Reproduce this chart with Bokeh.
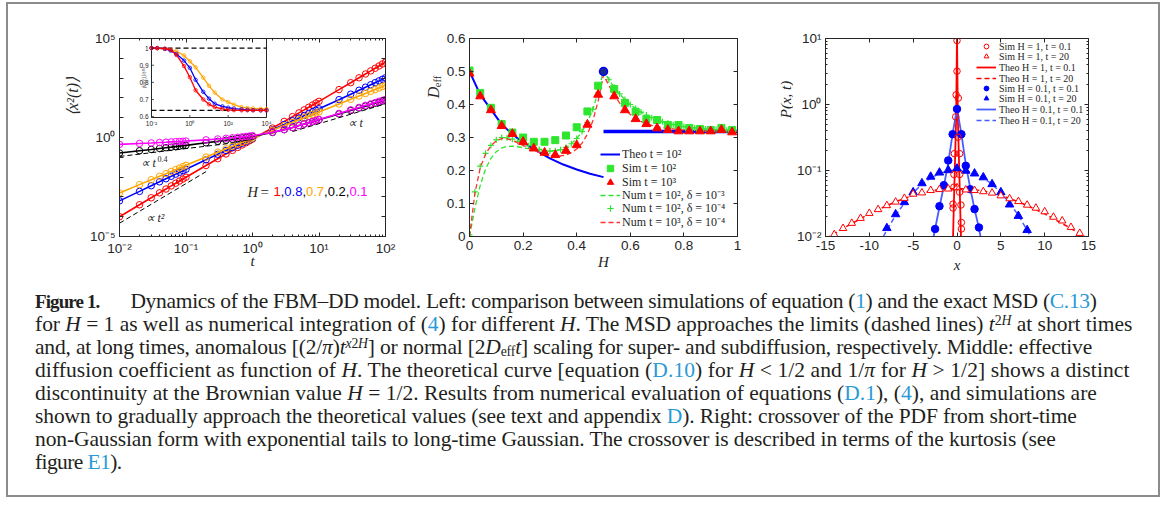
import math
from bokeh.plotting import figure
from bokeh.models import (Range1d, LogScale, LinearScale, FixedTicker, CustomJSTickFormatter,
                          LogAxis, LinearAxis, Label, Legend, LegendItem, Div)
from bokeh.layouts import row, column
from bokeh.embed import file_html
from bokeh.resources import INLINE
from bokeh.core.properties import value

INK = "#262626"
SANS = "Liberation Sans"
SERIF = "Liberation Serif"

# ---------------- Left panel: MSD ----------------
t_main = [0.01, 0.02, 0.03, 0.04, 0.05, 0.06, 0.07, 0.08, 0.09,
          0.1, 0.2, 0.3, 0.4, 0.5, 0.6, 0.7, 0.8, 0.9,
          1, 2, 3, 4, 5, 6, 7, 8, 9,
          10, 20, 30, 40, 50, 60, 70, 80, 90, 100]
msd_H1 = [1.0e-4, 4.0e-4, 9.0e-4, 1.6e-3, 2.5e-3, 3.6e-3, 4.9e-3, 6.35e-3, 8.0e-3,
          0.0099, 0.0384, 0.085, 0.148, 0.224, 0.315, 0.421, 0.544, 0.680,
          0.83, 3.0, 6.5, 11.3, 17.5, 24.9, 33.6, 43.5, 54.8,
          67.2, 262, 585, 1037, 1612, 2315, 3146, 4102, 5184, 6400]
msd_H08 = [6.3e-4, 1.9e-3, 3.66e-3, 5.79e-3, 8.28e-3, 1.10e-2, 1.41e-2, 1.75e-2, 2.11e-2,
           0.0249, 0.0746, 0.1416, 0.221, 0.306, 0.405, 0.512, 0.629, 0.754,
           0.885, 2.47, 4.55, 7.03, 9.76, 12.9, 16.3, 20.0, 23.9,
           28.1, 81.5, 154, 243, 346, 461, 588, 725, 874, 1033]
msd_H07 = [1.585e-3, 4.17e-3, 7.35e-3, 1.095e-2, 1.49e-2, 1.93e-2, 2.39e-2, 2.89e-2, 3.40e-2,
           0.0394, 0.1031, 0.180, 0.268, 0.363, 0.465, 0.572, 0.684, 0.802,
           0.923, 2.34, 4.03, 5.88, 7.88, 10.0, 12.2, 14.6, 17.1,
           19.6, 49.1, 84.5, 125, 167, 215, 265, 318, 374, 432]
msd_H02 = [0.165, 0.215, 0.25, 0.28, 0.305, 0.325, 0.345, 0.365, 0.385,
           0.40, 0.54, 0.64, 0.73, 0.81, 0.88, 0.95, 1.02, 1.09,
           1.15, 1.8, 2.5, 3.2, 4.0, 4.8, 5.5, 6.3, 7.1,
           7.9, 15.5, 23, 31, 38.5, 46, 54, 61, 69, 76]
msd_H01 = [0.45, 0.5, 0.53, 0.56, 0.58, 0.6, 0.615, 0.63, 0.645,
           0.66, 0.76, 0.84, 0.91, 0.97, 1.03, 1.08, 1.13, 1.18,
           1.23, 1.85, 2.5, 3.2, 4.0, 4.8, 5.6, 6.4, 7.3,
           8.1, 16.5, 25, 33, 42, 50, 58, 67, 75, 84]
H_labels = ["1", "0.8", "0.7", "0.2", "0.1"]

ref04_t = [0.01, 1.0]
ref04_y = [0.11, 0.69]
ref2_t = [0.01, 0.2]
ref2_y = [4.7e-5, 0.0188]
ref1_t = [4.0, 100.0]
ref1_y = [2.0, 50.0]

# inset: <x^2(t)>/t^{2H}
t_in = [0.01, 0.02, 0.05, 0.1, 0.2, 0.5, 1, 2, 5, 10, 20, 50, 100, 200, 500,
        1000, 2000, 5000, 10000]
ratio_H1 = [1.0, 1.0, 0.997, 0.99, 0.96, 0.895, 0.83, 0.754, 0.70, 0.672, 0.656,
            0.645, 0.64, 0.638, 0.637, 0.637, 0.637, 0.637, 0.637]
ratio_H08 = [1.0, 1.0, 0.995, 0.985, 0.965, 0.927, 0.885, 0.815, 0.745, 0.705,
             0.675, 0.66, 0.652, 0.647, 0.643, 0.64, 0.638, 0.637, 0.637]
ratio_H07 = [1.0, 0.999, 0.995, 0.99, 0.982, 0.957, 0.923, 0.888, 0.828, 0.78,
             0.74, 0.70, 0.685, 0.67, 0.656, 0.651, 0.648, 0.646, 0.645]
inset_t_lim = [1e-2, 1e4]
inset_r_lim = [0.595, 1.056]
inset_limits = [1.0, 0.6366]
inset_yticks = [0.6, 0.7, 0.8, 0.9, 1.0]
inset_ytick_labels = ["0.6", "0.7", "0.8", "0.9", "1"]
inset_xticks = [1e-2, 1e0, 1e2, 1e4]
inset_xtick_labels = ["10⁻²", "10⁰", "10²", "10⁴"]

# ---------------- Middle panel: D_eff ----------------
theo_H = [0.0, 0.04, 0.08, 0.12, 0.16, 0.2, 0.25, 0.3, 0.35, 0.4, 0.45, 0.5]
theo_D = [0.5, 0.43, 0.385, 0.34, 0.31, 0.285, 0.26, 0.237, 0.218, 0.203, 0.19, 0.18]
theo_flat_H = [0.5, 1.0]
theo_flat_D = [0.3183, 0.3183]
theo_half_H = [0.5]
theo_half_D = [0.5]

sim_H = [0.0, 0.04, 0.08, 0.12, 0.16, 0.2, 0.24, 0.28, 0.32, 0.36, 0.4, 0.44, 0.48,
         0.54, 0.58, 0.62, 0.66, 0.7, 0.74, 0.78, 0.82, 0.86, 0.9, 0.94, 0.98]
sim_t2 = [0.503, 0.435, 0.39, 0.341, 0.315, 0.30, 0.287, 0.287, 0.292, 0.306, 0.331,
          0.379, 0.457, 0.447, 0.405, 0.378, 0.356, 0.353, 0.338, 0.338, 0.329,
          0.326, 0.323, 0.329, 0.323]
sim_t3 = [0.494, 0.425, 0.383, 0.335, 0.311, 0.287, 0.267, 0.254, 0.247, 0.26, 0.277,
          0.339, 0.43, 0.425, 0.383, 0.356, 0.341, 0.328, 0.323, 0.319, 0.319,
          0.319, 0.319, 0.323, 0.316]

num_H = [0.0, 0.02, 0.04, 0.06, 0.08, 0.10, 0.12, 0.14, 0.16, 0.18, 0.20, 0.22, 0.24,
         0.26, 0.28, 0.30, 0.32, 0.34, 0.36, 0.38, 0.40, 0.42, 0.44, 0.46, 0.48, 0.50,
         0.52, 0.54, 0.56, 0.58, 0.60, 0.62, 0.64, 0.66, 0.68, 0.70, 0.72, 0.74, 0.76,
         0.78, 0.80, 0.82, 0.84, 0.86, 0.88, 0.90, 0.92, 0.94, 0.96, 0.98, 1.00]
num_t2_d3 = [0.0, 0.085, 0.155, 0.205, 0.237, 0.257, 0.268, 0.273, 0.274, 0.272, 0.269,
             0.266, 0.263, 0.261, 0.259, 0.259, 0.26, 0.263, 0.27, 0.281, 0.297, 0.318,
             0.346, 0.385, 0.437, 0.503, 0.476, 0.452, 0.432, 0.415, 0.40, 0.388,
             0.377, 0.368, 0.36, 0.354, 0.348, 0.343, 0.339, 0.336, 0.333, 0.331,
             0.329, 0.327, 0.326, 0.325, 0.324, 0.323, 0.322, 0.321, 0.32]
num_t2_d4 = [0.005, 0.135, 0.213, 0.252, 0.276, 0.293, 0.30, 0.299, 0.295, 0.288, 0.281,
             0.275, 0.269, 0.264, 0.26, 0.259, 0.26, 0.263, 0.27, 0.281, 0.297, 0.318,
             0.346, 0.385, 0.435, 0.50, 0.475, 0.452, 0.432, 0.415, 0.40, 0.388,
             0.377, 0.368, 0.36, 0.354, 0.348, 0.343, 0.339, 0.336, 0.333, 0.331,
             0.329, 0.327, 0.326, 0.325, 0.324, 0.323, 0.322, 0.321, 0.32]
num_t3_d4 = [0.0, 0.13, 0.208, 0.25, 0.275, 0.29, 0.297, 0.296, 0.291, 0.284, 0.276,
             0.268, 0.261, 0.255, 0.25, 0.246, 0.244, 0.244, 0.247, 0.254, 0.265,
             0.283, 0.31, 0.35, 0.41, 0.49, 0.458, 0.428, 0.405, 0.385, 0.37, 0.358,
             0.349, 0.342, 0.337, 0.333, 0.33, 0.328, 0.326, 0.324, 0.323, 0.322,
             0.321, 0.321, 0.32, 0.32, 0.32, 0.32, 0.319, 0.319, 0.319]

# ---------------- Right panel: PDF ----------------
simA_x = [0.0, 0.0, -0.1, 0.15, -0.15, 0.1, -0.3, 0.3, -0.35, 0.3, -0.35, 0.3,
          -0.45, -0.45, 0.45, 0.5, 0.5]
simA_p = [9.3, 3.2, 1.4, 1.25, 0.65, 0.32, 0.18, 0.18, 0.087, 0.087, 0.056, 0.047,
          0.031, 0.027, 0.030, 0.0163, 0.013]
simB_x = [-14, -13, -12, -11, -10, -9, -8, -7, -6, -5, -4, -3, -2, -1, 0,
          1, 2, 3, 4, 5, 6, 7, 8, 9, 10, 11, 12, 13, 14]
simB_p = [0.0107, 0.0133, 0.0159, 0.0189, 0.0225, 0.0257, 0.0295, 0.0334, 0.038,
          0.044, 0.046, 0.050, 0.0517, 0.0527, 0.055, 0.051, 0.050, 0.048, 0.0457,
          0.0415, 0.0375, 0.034, 0.030, 0.027, 0.0238, 0.0197, 0.0173, 0.0138, 0.0112]
theoA_x = [-0.45, -0.4, -0.3, -0.2, -0.1, 0.0, 0.1, 0.2, 0.3, 0.4, 0.45]
theoA_p = [0.01, 0.018, 0.06, 0.19, 0.6, 12.0, 0.6, 0.19, 0.06, 0.018, 0.01]
theoB_x = [-15, -14, -13, -12, -11, -10, -9, -8, -7, -6, -5, -4, -3, -2, -1, 0,
           1, 2, 3, 4, 5, 6, 7, 8, 9, 10, 11, 12, 13, 14, 15]
theoB_p = [0.0093, 0.011, 0.0132, 0.0157, 0.0186, 0.022, 0.0255, 0.0294, 0.0335,
           0.0378, 0.042, 0.0458, 0.049, 0.0513, 0.0527, 0.0532, 0.0527, 0.0513,
           0.049, 0.0458, 0.042, 0.0378, 0.0335, 0.0294, 0.0255, 0.022, 0.0186,
           0.0157, 0.0132, 0.011, 0.0093]
simC_x = [-2.5, -2.0, -1.5, -1.0, -0.5, 0.0, 0.5, 1.0, 1.5, 2.0, 2.5]
simC_p = [0.013, 0.0288, 0.06, 0.142, 0.355, 0.855, 0.355, 0.118, 0.052, 0.026, 0.0137]
simD_x = [-8, -7, -6, -5, -4, -3, -2, -1, 0, 1, 2, 3, 4, 5, 6, 7, 8]
simD_p = [0.0134, 0.0217, 0.0331, 0.0468, 0.064, 0.0805, 0.093, 0.101, 0.107, 0.099,
          0.090, 0.0787, 0.062, 0.0468, 0.0305, 0.0205, 0.0125]
theoC_x = [-2.7, -2.5, -2.0, -1.5, -1.0, -0.5, 0.0, 0.5, 1.0, 1.5, 2.0, 2.5, 2.7]
theoC_p = [0.0095, 0.013, 0.028, 0.058, 0.13, 0.36, 0.87, 0.36, 0.125, 0.055, 0.026,
           0.0135, 0.0097]
theoD_x = [-8.4, -8, -7, -6, -5, -4, -3, -2, -1, 0, 1, 2, 3, 4, 5, 6, 7, 8, 8.4]
theoD_p = [0.01, 0.0125, 0.021, 0.032, 0.046, 0.062, 0.077, 0.090, 0.099, 0.102,
           0.099, 0.090, 0.077, 0.062, 0.046, 0.032, 0.021, 0.0125, 0.01]

# ---------------- helpers ----------------
LOGFMT = """
const e = Math.round(Math.log10(tick));
if (show.length > 0 && !show.includes(e)) return "";
const m = {"-":"\u207b","0":"\u2070","1":"\u00b9","2":"\u00b2","3":"\u00b3","4":"\u2074",
           "5":"\u2075","6":"\u2076","7":"\u2077","8":"\u2078","9":"\u2079"};
return "10" + String(e).split("").map(c => m[c]).join("");
"""
LINFMT = "return String(Math.round(tick*10)/10);"
BLANK = "return '';"
TICK_FS = "13.5px"
AXL_FS = "15px"


def style_axis(ax, ticker, code, args=None, labels=True):
    ax.ticker = ticker
    ax.formatter = CustomJSTickFormatter(code=code, args=args or {})
    ax.axis_line_color = INK
    ax.major_tick_line_color = INK
    ax.minor_tick_line_color = INK
    ax.major_tick_in = 4
    ax.major_tick_out = 0
    ax.minor_tick_in = 2
    ax.minor_tick_out = 0
    ax.major_label_text_font = SANS
    ax.major_label_text_font_size = TICK_FS if labels else "0px"
    ax.major_label_text_color = INK
    ax.major_label_standoff = 4


def xlabel(ax, text, standoff):
    ax.axis_label = text
    ax.axis_label_text_font = SERIF
    ax.axis_label_text_font_style = "italic"
    ax.axis_label_text_font_size = AXL_FS
    ax.axis_label_text_color = INK
    ax.axis_label_standoff = standoff


def make_fig(width, height, left, right, top, bottom, **kw):
    p = figure(width=width, height=height, min_border_left=left, min_border_right=right,
               min_border_top=top, min_border_bottom=bottom, output_backend="svg",
               toolbar_location=None, **kw)
    p.outline_line_color = INK
    p.xgrid.visible = False
    p.ygrid.visible = False
    p.background_fill_color = "white"
    p.border_fill_color = "white"
    return p


def strip(width, height):
    s = figure(width=width, height=height, min_border=0, x_axis_location=None,
               y_axis_location=None, output_backend="svg", toolbar_location=None,
               x_range=Range1d(0, 1), y_range=Range1d(0, 1))
    s.outline_line_color = None
    s.xgrid.visible = False
    s.ygrid.visible = False
    s.border_fill_color = "white"
    s.background_fill_color = "white"
    return s


def lab(p, x, y, text, size, font=SERIF, style="italic", color=INK, angle=0.0,
        align="center", baseline="middle"):
    p.add_layout(Label(x=x, y=y, x_units="screen", y_units="screen", text=text,
                       text_font=font, text_font_size=f"{size}px", text_font_style=style,
                       text_color=color, angle=angle, text_align=align,
                       text_baseline=baseline))


def legend_rows(p, entries, x, centers, frame_h, h, fs, standoff):
    # one single-item legend per row, so that row pitch can be set exactly
    for (label, rend), c in zip(entries, centers):
        y = frame_h - c - h / 2.0
        p.add_layout(Legend(items=[LegendItem(label=label, renderers=[rend])],
                            location=(x, round(y)), padding=0, margin=0, spacing=0,
                            glyph_width=20, glyph_height=h, label_height=h,
                            label_standoff=standoff, label_text_font=SERIF,
                            label_text_font_size=fs, label_text_line_height=1.0,
                            label_text_color=INK, background_fill_alpha=0,
                            border_line_alpha=0))


def decade_ticks(lo, hi):
    return [10.0 ** k for k in range(lo, hi + 1)]


def minor_ticks(lo, hi):
    return [m * 10.0 ** k for k in range(lo, hi) for m in range(2, 10)]


FIG_H = 276
TOP = 34

# ================= Left figure =================
FW1, FH1 = 266, 198
s1 = strip(76, FIG_H)
lab(s1, 64, 140, "⟨x²(t)⟩", 16, angle=math.pi / 2)

p1 = make_fig(336, FIG_H, 35, 35, TOP, FIG_H - TOP - FH1, x_axis_type="log",
              y_axis_type="log", x_range=Range1d(1e-2, 1e2), y_range=Range1d(1e-5, 1e5))
xt1 = FixedTicker(ticks=decade_ticks(-2, 2), minor_ticks=minor_ticks(-2, 2))
yt1 = FixedTicker(ticks=decade_ticks(-5, 5), minor_ticks=[])
style_axis(p1.xaxis[0], xt1, LOGFMT, {"show": []})
style_axis(p1.yaxis[0], yt1, LOGFMT, {"show": [-5, 0, 5]})
xlabel(p1.xaxis[0], "t", -6)
ax = LogAxis(); style_axis(ax, xt1, BLANK, labels=False); p1.add_layout(ax, "above")
ax = LogAxis(); style_axis(ax, yt1, BLANK, labels=False); p1.add_layout(ax, "right")

for y, ref_t in ((ref04_y, ref04_t), (ref2_y, ref2_t), (ref1_y, ref1_t)):
    p1.line(ref_t, y, line_color="black", line_dash="5 3", line_width=1)

series = [(msd_H1, "#ff0000"), (msd_H08, "#0000ff"), (msd_H07, "#ffa500"),
          (msd_H02, "#000000"), (msd_H01, "#ff00ff")]
for ys, c in series:
    p1.line(t_main, ys, line_color=c, line_width=1.6)
    p1.scatter(t_main, ys, marker="circle", size=6.5, fill_color=None, line_color=c,
               line_width=1)

# inset geometry (pixels inside the frame)
in_l, in_r, in_t, in_b = 32, 147, 0, 79
dpp = 6.0 / (in_r - in_l)
xlo = -2 - in_l * dpp
xhi = 4 + (FW1 - in_r) * dpp
ppy = (inset_r_lim[1] - inset_r_lim[0]) / (in_b - in_t)
ylo = inset_r_lim[0] - (FH1 - in_b) * ppy
yhi = inset_r_lim[1] + in_t * ppy
p1.extra_x_ranges = {"in": Range1d(10 ** xlo, 10 ** xhi)}
p1.extra_x_scales = {"in": LogScale()}
p1.extra_y_ranges = {"in": Range1d(ylo, yhi)}
p1.extra_y_scales = {"in": LinearScale()}
kin = dict(x_range_name="in", y_range_name="in")
p1.quad(left=[inset_t_lim[0]], right=[inset_t_lim[1]], bottom=[inset_r_lim[0]],
        top=[inset_r_lim[1]], fill_color="white", line_color=INK, line_width=1, **kin)
for lv in inset_limits:
    p1.line(inset_t_lim, [lv, lv], line_color="black", line_dash="5 3", line_width=1.2, **kin)
for ys, c in ((ratio_H07, "#ffa500"), (ratio_H08, "#0000ff"), (ratio_H1, "#ff0000")):
    p1.line(t_in, ys, line_color=c, line_width=1.3, **kin)
    p1.scatter(t_in, ys, marker="circle", size=3.5, fill_color=None, line_color=c,
               line_width=0.8, **kin)
tick_dx = 10 ** (-2 + 2.5 * dpp)
for yv in inset_yticks:
    p1.line([inset_t_lim[0], tick_dx], [yv, yv], line_color=INK, line_width=0.8, **kin)
for xv in inset_xticks:
    p1.line([xv, xv], [inset_r_lim[0], inset_r_lim[0] + 2.5 * ppy], line_color=INK,
            line_width=0.8, **kin)
p1.text(x=[10 ** (-2 - 3 * dpp)] * len(inset_yticks), y=inset_yticks,
        text=inset_ytick_labels, text_font=value(SANS), text_font_size=value("6.5px"),
        text_align="right", text_baseline="middle", text_color=INK, **kin)
p1.text(x=inset_xticks, y=[inset_r_lim[0] - 2 * ppy] * len(inset_xticks),
        text=inset_xtick_labels, text_font=value(SANS), text_font_size=value("6.5px"),
        text_align="center", text_baseline="top", text_color=INK, **kin)
lab(p1, 24, FH1 - 40, "⟨x²(t)⟩/t²ᴴ", 6, color="#555555", angle=math.pi / 2)

lab(p1, 21, 74, "∝ t", 12, align="left")
lab(p1, 38, 78, "0.4", 8, style="normal", align="left")
lab(p1, 26, 19, "∝ t²", 12, align="left")
lab(p1, 228, 114, "∝ t", 12, align="left")
lab(p1, 128, 45, "H", 14.5, align="left")
lab(p1, 141, 45, "=", 15, style="normal", align="left")
x0 = 154.0
fs = 13
for i, (txt, c) in enumerate(zip(H_labels, [s[1] for s in series])):
    lab(p1, x0, 45, txt, fs, font=SANS, style="normal", color=c, align="left")
    x0 += sum(0.278 if ch == "." else 0.556 for ch in txt) * fs
    if i < len(H_labels) - 1:
        lab(p1, x0, 45, ",", fs, font=SANS, style="normal", color="black", align="left")
        x0 += 0.278 * fs

# ================= Middle figure =================
FW2, FH2 = 268, 201
s2 = strip(23, FIG_H)
lab(s2, 13, 144, "D", 16, angle=math.pi / 2)
lab(s2, 17, 155, "eff", 10.5, style="normal", angle=math.pi / 2)

p2 = make_fig(317, FIG_H, 26, 23, TOP, FIG_H - TOP - FH2,
              x_range=Range1d(0, 1), y_range=Range1d(0, 0.6))
xt2 = FixedTicker(ticks=[0, 0.2, 0.4, 0.6, 0.8, 1.0], minor_ticks=[])
yt2 = FixedTicker(ticks=[0, 0.1, 0.2, 0.3, 0.4, 0.5, 0.6], minor_ticks=[])
style_axis(p2.xaxis[0], xt2, LINFMT)
style_axis(p2.yaxis[0], yt2, LINFMT)
xlabel(p2.xaxis[0], "H", 1)
ax = LinearAxis(); style_axis(ax, xt2, BLANK, labels=False); p2.add_layout(ax, "above")
ax = LinearAxis(); style_axis(ax, yt2, BLANK, labels=False); p2.add_layout(ax, "right")

GREEN = "#2ee62e"
r_theo = p2.line(theo_H, theo_D, line_color="#0000ff", line_width=2)
p2.line(theo_flat_H, theo_flat_D, line_color="#0000ff", line_width=3.5)
r_num3 = p2.line(num_H, num_t2_d3, line_color=GREEN, line_dash="5 3", line_width=1.3)
r_num4 = p2.scatter(num_H, num_t2_d4, marker="cross", size=6, line_color=GREEN,
                    line_width=1.2)
r_numr = p2.line(num_H, num_t3_d4, line_color="#ff3030", line_dash="5 3", line_width=1.3)
r_sq = p2.scatter(sim_H, sim_t2, marker="square", size=7, fill_color=GREEN,
                  line_color=GREEN)
r_tr = p2.scatter(sim_H, sim_t3, marker="triangle", size=9, fill_color="#ff0000",
                  line_color="#ff0000")
p2.scatter(theo_half_H, theo_half_D, marker="circle", size=8, fill_color="#1a2a8a",
           line_color="#0000ff", line_width=1.5)

legend_rows(p2, [("Theo t = 10²", r_theo), ("Sim t = 10²", r_sq), ("Sim t = 10³", r_tr),
                 ("Num t = 10², δ = 10⁻³", r_num3), ("Num t = 10², δ = 10⁻⁴", r_num4),
                 ("Num t = 10³, δ = 10⁻⁴", r_numr)],
            131, [118.5, 132.5, 146.5, 160, 173.5, 187.5], FH2, 16, "12px", 2)

# ================= Right figure =================
FW3, FH3 = 264, 201
s3 = strip(33, FIG_H)
lab(s3, 25, 137, "P(x, t)", 15, angle=math.pi / 2)

p3 = make_fig(365, FIG_H, 31, 70, TOP, FIG_H - TOP - FH3, y_axis_type="log",
              x_range=Range1d(-15, 15), y_range=Range1d(1e-2, 1e1))
xt3 = FixedTicker(ticks=[-15, -10, -5, 0, 5, 10, 15], minor_ticks=[])
yt3 = FixedTicker(ticks=decade_ticks(-2, 1), minor_ticks=minor_ticks(-2, 1))
style_axis(p3.xaxis[0], xt3, "return String(tick);")
style_axis(p3.yaxis[0], yt3, LOGFMT, {"show": []})
xlabel(p3.xaxis[0], "x", 4)
ax = LinearAxis(); style_axis(ax, xt3, BLANK, labels=False); p3.add_layout(ax, "above")
ax = LogAxis(); style_axis(ax, yt3, BLANK, labels=False); p3.add_layout(ax, "right")

BLUE_L = "#4a5cff"
rA = p3.line(theoA_x, theoA_p, line_color="#ff0000", line_width=1.8)
rB = p3.line(theoB_x, theoB_p, line_color="#ff0000", line_width=1.5, line_dash="5 3")
rC = p3.line(theoC_x, theoC_p, line_color=BLUE_L, line_width=1.8)
rD = p3.line(theoD_x, theoD_p, line_color=BLUE_L, line_width=1.5, line_dash="5 3")
sC = p3.scatter(simC_x, simC_p, marker="circle", size=7.5, fill_color="#0000ff",
                line_color="#0000ff")
sD = p3.scatter(simD_x, simD_p, marker="triangle", size=8.5, fill_color="#0000ff",
                line_color="#0000ff")
sB = p3.scatter(simB_x, simB_p, marker="triangle", size=7.5, fill_color="white",
                line_color="#ff0000", line_width=1)
sA = p3.scatter(simA_x, simA_p, marker="circle", size=6.5, fill_color=None,
                line_color="#ff0000", line_width=1)

legend_rows(p3, [("Sim H = 1, t = 0.1", sA), ("Sim H = 1, t = 20", sB),
                 ("Theo H = 1, t = 0.1", rA), ("Theo H = 1, t = 20", rB),
                 ("Sim H = 0.1, t = 0.1", sC), ("Sim H = 0.1, t = 20", sD),
                 ("Theo H = 0.1, t = 0.1", rC), ("Theo H = 0.1, t = 20", rD)],
            151, [11, 21.5, 32, 42.5, 53, 63.5, 74, 84.5], FH3, 12, "10px", 3)

# ================= Caption =================
LINK = "#2a9ad6"


def a(s):
    return f'<span style="color:{LINK}">{s}</span>'


SUPS = '<span style="font-size:64%;vertical-align:0.42em;line-height:0">'
SUBS = '<span style="font-size:64%;vertical-align:-0.18em;line-height:0">'
FIG1 = ('<b style="font-size:19px;letter-spacing:-0.9px">Figure 1.</b>'
        '<span style="display:inline-block;width:31px"></span>')
cap_lines = [
    f'{FIG1}Dynamics of the FBM–DD model. Left: comparison between simulations of equation ({a("1")}) and the exact MSD ({a("C.13")})',
    f'for <i>H</i> = 1 as well as numerical integration of ({a("4")}) for different <i>H</i>. The MSD approaches the limits (dashed lines) <i>t</i>{SUPS}2<i>H</i></span> at short times',
    f'and, at long times, anomalous [(2/<i>π</i>)<i>t</i>{SUPS}<i>x</i>2<i>H</i></span>] or normal [2<i>D</i>{SUBS}eff</span><i>t</i>] scaling for super- and subdiffusion, respectively. Middle: effective',
    f'diffusion coefficient as function of <i>H</i>. The theoretical curve [equation ({a("D.10")}) for <i>H</i> &lt; 1/2 and 1/<i>π</i> for <i>H</i> &gt; 1/2] shows a distinct',
    f'discontinuity at the Brownian value <i>H</i> = 1/2. Results from numerical evaluation of equations ({a("D.1")}), ({a("4")}), and simulations are',
    f'shown to gradually approach the theoretical values (see text and appendix {a("D")}). Right: crossover of the PDF from short-time',
    'non-Gaussian form with exponential tails to long-time Gaussian. The crossover is described in terms of the kurtosis (see',
    f'figure {a("E1")}).',
]
line_ls = [-0.3, -0.03, -0.18, 0.09, 0.0, -0.12, -0.11, -0.6]
cap_body = "<br>".join(f'<span style="letter-spacing:{ls}px">{ln}</span>'
                       for ln, ls in zip(cap_lines, line_ls))
cap_html = ('<div style="font-family:\'Liberation Serif\';font-size:21.5px;line-height:23px;'
            'color:#231f20;white-space:nowrap;padding:10px 0 0 27px;">'
            + cap_body + "</div>")
cap = Div(text=cap_html, width=1150, height=215, margin=(0, 0, 0, 0))

layout = column(row(s1, p1, s2, p2, s3, p3), cap,
                styles={"border": "2px solid #8c8c8c", "background": "white",
                        "margin": "2px 0 0 6px"})

open("out.html", "w").write(file_html(layout, INLINE))
